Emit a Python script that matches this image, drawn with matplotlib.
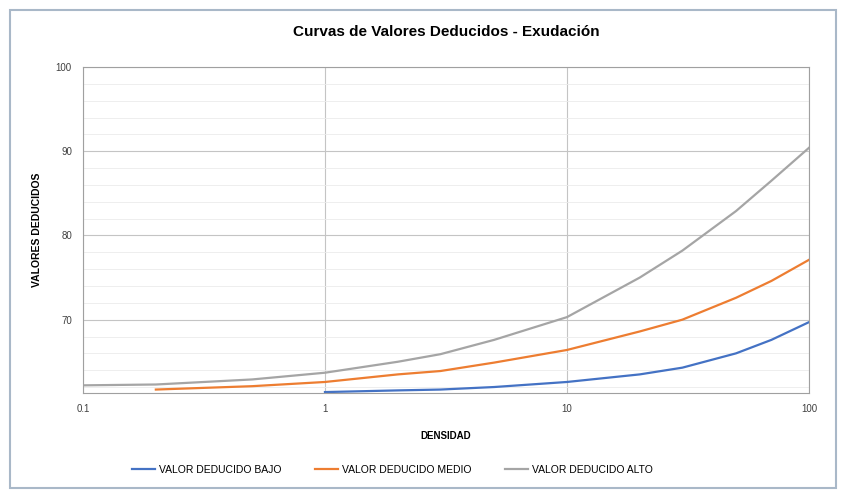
import matplotlib
matplotlib.use("Agg")
import matplotlib.pyplot as plt
from matplotlib.patches import Rectangle
from matplotlib.ticker import FixedLocator, MultipleLocator, NullFormatter

# Data
x_bajo = [1, 2, 3, 5, 10, 20, 30, 50, 70, 100]
y_bajo = [61.4, 61.6, 61.7, 62.0, 62.6, 63.5, 64.3, 66.0, 67.6, 69.7]

x_medio = [0.2, 0.5, 1, 2, 3, 5, 10, 20, 30, 50, 70, 100]
y_medio = [61.7, 62.1, 62.6, 63.5, 63.9, 64.9, 66.4, 68.6, 70.0, 72.6, 74.6, 77.1]

x_alto = [0.1, 0.2, 0.5, 1, 2, 3, 5, 10, 20, 30, 50, 70, 100]
y_alto = [62.2, 62.3, 62.9, 63.7, 65.0, 65.9, 67.6, 70.3, 75.0, 78.2, 82.9, 86.5, 90.4]

x_ticks = [0.1, 1, 10, 100]
x_tick_labels = ["0.1", "1", "10", "100"]
y_ticks = [70, 80, 90, 100]
y_tick_labels = ["70", "80", "90", "100"]

plt.rcParams['font.family'] = ['Liberation Sans', 'DejaVu Sans']

fig = plt.figure(figsize=(8.47, 4.93), dpi=100)
ax = fig.add_axes([0.098, 0.203, 0.857, 0.661])

# chart frame
fig.patches.append(Rectangle((10 / 847, 5 / 493), 826 / 847, 478 / 493,
                             transform=fig.transFigure, fill=False,
                             edgecolor='#a9b8c8', linewidth=1.5))

ax.plot(x_bajo, y_bajo, color='#4472C4', lw=1.6, label='VALOR DEDUCIDO BAJO')
ax.plot(x_medio, y_medio, color='#ED7D31', lw=1.6, label='VALOR DEDUCIDO MEDIO')
ax.plot(x_alto, y_alto, color='#A5A5A5', lw=1.6, label='VALOR DEDUCIDO ALTO')

ax.set_xscale('log')
ax.set_xlim(0.1, 100)
ax.set_ylim(61.3, 100)

ax.xaxis.set_major_locator(FixedLocator(x_ticks))
ax.set_xticklabels(x_tick_labels)
ax.xaxis.set_minor_formatter(NullFormatter())
ax.set_yticks(y_ticks)
ax.set_yticklabels(y_tick_labels)
ax.yaxis.set_minor_locator(MultipleLocator(2))

ax.grid(True, which='major', color='#c4c4c4', lw=0.8)
ax.grid(True, which='minor', axis='y', color='#ebebeb', lw=0.6)
ax.set_axisbelow(True)
ax.tick_params(which='both', length=0, labelsize=7, colors='#404040', pad=8)

for s in ax.spines.values():
    s.set_color('#a0a0a0')

ax.set_title('Curvas de Valores Deducidos - Exudación', fontsize=11,
             fontweight='bold', pad=22)
ax.set_xlabel('DENSIDAD', fontsize=7, fontweight='bold', labelpad=12)
ax.set_ylabel('VALORES DEDUCIDOS', fontsize=7.5, fontweight='bold', labelpad=10)

fig.legend(loc='center', bbox_to_anchor=(0.463, 0.047), ncol=3, frameon=False,
           fontsize=7.5, handlelength=2.2, handletextpad=0.4, columnspacing=3.2)

fig.savefig('out.png', dpi=100)
